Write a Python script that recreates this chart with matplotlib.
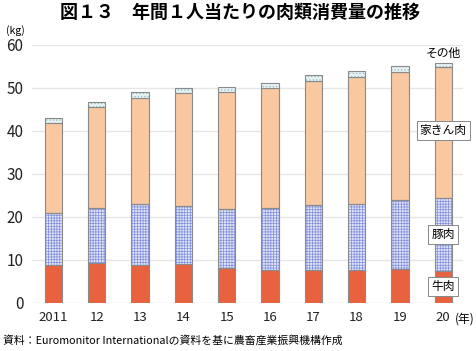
import matplotlib.pyplot as plt
import numpy as np

plt.rcParams['font.family'] = ['Noto Sans CJK JP', 'DejaVu Sans']
plt.rcParams['hatch.linewidth'] = 0.5

years = ['2011', '12', '13', '14', '15', '16', '17', '18', '19', '20']
beef = [8.9, 9.2, 8.9, 9.0, 8.1, 7.7, 7.6, 7.7, 7.8, 7.4]
pork = [12.0, 12.8, 14.1, 13.6, 13.8, 14.4, 15.1, 15.4, 16.1, 17.1]
poultry = [20.9, 23.5, 24.7, 26.2, 27.1, 27.9, 28.9, 29.5, 29.7, 30.3]
other = [1.1, 1.2, 1.3, 1.2, 1.2, 1.2, 1.4, 1.3, 1.4, 1.1]

fig = plt.figure(figsize=(4.76, 3.51), dpi=100)
ax = fig.add_axes([0.067, 0.137, 0.905, 0.735])

x = np.arange(len(years))
w = 0.4
ec = '#8a8a8a'
b1 = np.array(beef)
b2 = b1 + np.array(pork)
b3 = b2 + np.array(poultry)

ax.bar(x, beef, w, color='#e9623f', edgecolor=ec, linewidth=0.8, zorder=3)
ax.bar(x, pork, w, bottom=b1, color='#dfe3f7', edgecolor='#8290dc', hatch='++++++', linewidth=0, zorder=3)
ax.bar(x, pork, w, bottom=b1, fill=False, edgecolor=ec, linewidth=0.8, zorder=4)
ax.bar(x, poultry, w, bottom=b2, color='#f9c8a0', edgecolor=ec, linewidth=0.8, zorder=3)
ax.bar(x, other, w, bottom=b3, color='#e6f2f2', edgecolor='#8fb8c0', hatch='.....', linewidth=0, zorder=3)
ax.bar(x, other, w, bottom=b3, fill=False, edgecolor=ec, linewidth=0.8, zorder=4)

ax.set_ylim(0, 60)
ax.set_xlim(-0.5, 9.45)
ax.set_yticks(range(0, 61, 10))
ax.set_xticks(x)
ax.set_xticklabels(years)
ax.yaxis.grid(True, color='#e6e6e6', linewidth=1, zorder=0)
ax.set_axisbelow(True)
for s in ax.spines.values():
    s.set_visible(False)
ax.tick_params(length=0, labelsize=9.5, colors='#222222')
ax.tick_params(axis='y', pad=6)
ax.tick_params(axis='x', pad=6)
ax.set_yticklabels([str(v) for v in range(0, 61, 10)], fontsize=11)

box = dict(boxstyle='square,pad=0.25', facecolor='white', edgecolor='#888888', linewidth=0.7)
ax.text(9, b3[-1] + other[-1] + 0.6, 'その他', ha='center', va='bottom', fontsize=8.5, zorder=6)
ax.text(9, 40.2, '家きん肉', ha='center', va='center', fontsize=8.5, bbox=box, zorder=6)
ax.text(9, 16.0, '豚肉', ha='center', va='center', fontsize=8.5, bbox=box, zorder=6)
ax.text(9, 3.9, '牛肉', ha='center', va='center', fontsize=8.5, bbox=box, zorder=6)

fig.text(0.505, 0.965, '図１３　年間１人当たりの肉類消費量の推移', ha='center', va='center',
         fontsize=13, fontweight='bold')
fig.text(0.012, 0.912, '(kg)', ha='left', va='center', fontsize=7.5)
fig.text(0.955, 0.09, '(年)', ha='left', va='center', fontsize=8.5)
fig.text(0.006, 0.03, '資料：Euromonitor Internationalの資料を基に農畜産業振興機構作成',
         ha='left', va='center', fontsize=7.8)

fig.savefig('out.png', dpi=100)
